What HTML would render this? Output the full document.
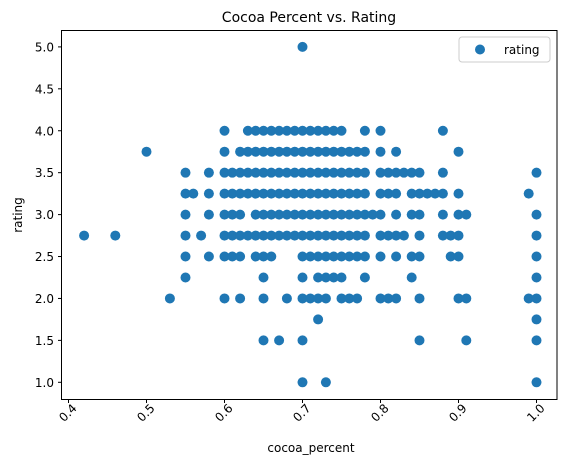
<!DOCTYPE html>
<html><head><meta charset="utf-8"><style>
body{margin:0;background:#fff;}
svg{display:block;font-family:"DejaVu Sans","Liberation Sans",sans-serif;}
</style></head><body>
<svg id="chart" width="567" height="464">
<text x="309" y="22" text-anchor="middle" font-size="14">Cocoa Percent  vs. Rating</text>
<g id="marks"></g>
<g id="axes"></g>
<rect x="61.5" y="30.5" width="495.5" height="369" fill="none" stroke="#000" stroke-width="1"/>
<text x="311" y="452" text-anchor="middle" font-size="12">cocoa_percent</text>
<text transform="translate(22,215) rotate(-90)" text-anchor="middle" font-size="12">rating</text>
<g>
<rect x="459" y="37" width="91" height="25" rx="3" fill="#fff" stroke="#ccc"/>
<circle cx="480" cy="49.5" r="5" fill="#1f77b4"/>
<text x="504" y="54" font-size="12">rating</text>
</g>
</svg>
<script>
const ratings = [5.0,4.0,3.75,3.5,3.25,3.0,2.75,2.5,2.25,2.0,1.75,1.5,1.0];
const percentRows = [
 [70],
 [60,63,64,65,66,67,68,69,70,71,72,73,74,75,78,80,88],
 [50,60,62,63,64,65,66,67,68,69,70,71,72,73,74,75,76,77,78,80,82,90],
 [55,58,60,61,62,63,64,65,66,67,68,69,70,71,72,73,74,75,76,77,78,80,81,82,83,84,85,88,100],
 [55,56,58,60,61,62,63,64,65,66,67,68,69,70,71,72,73,74,75,76,77,78,80,81,82,84,85,86,87,88,90,99],
 [55,58,60,61,62,64,65,66,67,68,69,70,71,72,73,74,75,76,77,78,79,80,82,84,85,88,90,91,100],
 [42,46,55,57,60,61,62,63,64,65,66,67,68,69,70,71,72,73,74,75,76,77,78,80,81,82,83,85,88,89,90,100],
 [55,58,60,61,62,64,65,66,70,71,72,73,74,75,76,77,78,80,82,84,85,89,90,100],
 [55,65,70,72,73,74,75,78,84,100],
 [53,60,62,65,68,70,71,72,73,75,76,77,80,81,82,85,90,91,99,100],
 [72,100],
 [65,67,70,85,91,100],
 [70,73,100]
];
const xTicks = [0.4,0.5,0.6,0.7,0.8,0.9,1.0];
const yTicks = [1.0,1.5,2.0,2.5,3.0,3.5,4.0,4.5,5.0];
const NS='http://www.w3.org/2000/svg';
function xs(v){return 68.5+(v-0.4)*780;}
function ys(v){return 382.3-(v-1)*83.85;}
const marks=document.getElementById('marks');
ratings.forEach((r,i)=>{
 percentRows[i].forEach(p=>{
  const c=document.createElementNS(NS,'circle');
  c.setAttribute('cx',xs(p/100));c.setAttribute('cy',ys(r));c.setAttribute('r',5);c.setAttribute('fill','#1f77b4');
  
  
  marks.appendChild(c);
 });
});
const axes=document.getElementById('axes');
xTicks.forEach(t=>{
 const x=xs(t);
 const l=document.createElementNS(NS,'line');
 l.setAttribute('x1',x);l.setAttribute('x2',x);l.setAttribute('y1',399.5);l.setAttribute('y2',403);l.setAttribute('stroke','#000');
 
 
 axes.appendChild(l);
 const tx=document.createElementNS(NS,'text');
 tx.setAttribute('transform','translate('+(x+9)+',409) rotate(-45)');
 tx.setAttribute('text-anchor','end');tx.setAttribute('font-size','12');
 tx.textContent=t.toFixed(1);
 
 
 axes.appendChild(tx);
});
yTicks.forEach(t=>{
 const y=ys(t);
 const l=document.createElementNS(NS,'line');
 l.setAttribute('x1',58);l.setAttribute('x2',61.5);l.setAttribute('y1',y);l.setAttribute('y2',y);l.setAttribute('stroke','#000');
 
 
 axes.appendChild(l);
 const tx=document.createElementNS(NS,'text');
 tx.setAttribute('x',54);tx.setAttribute('y',y+4.5);tx.setAttribute('text-anchor','end');tx.setAttribute('font-size','12');
 tx.textContent=t.toFixed(1);
 
 
 axes.appendChild(tx);
});
</script>
</body></html>
